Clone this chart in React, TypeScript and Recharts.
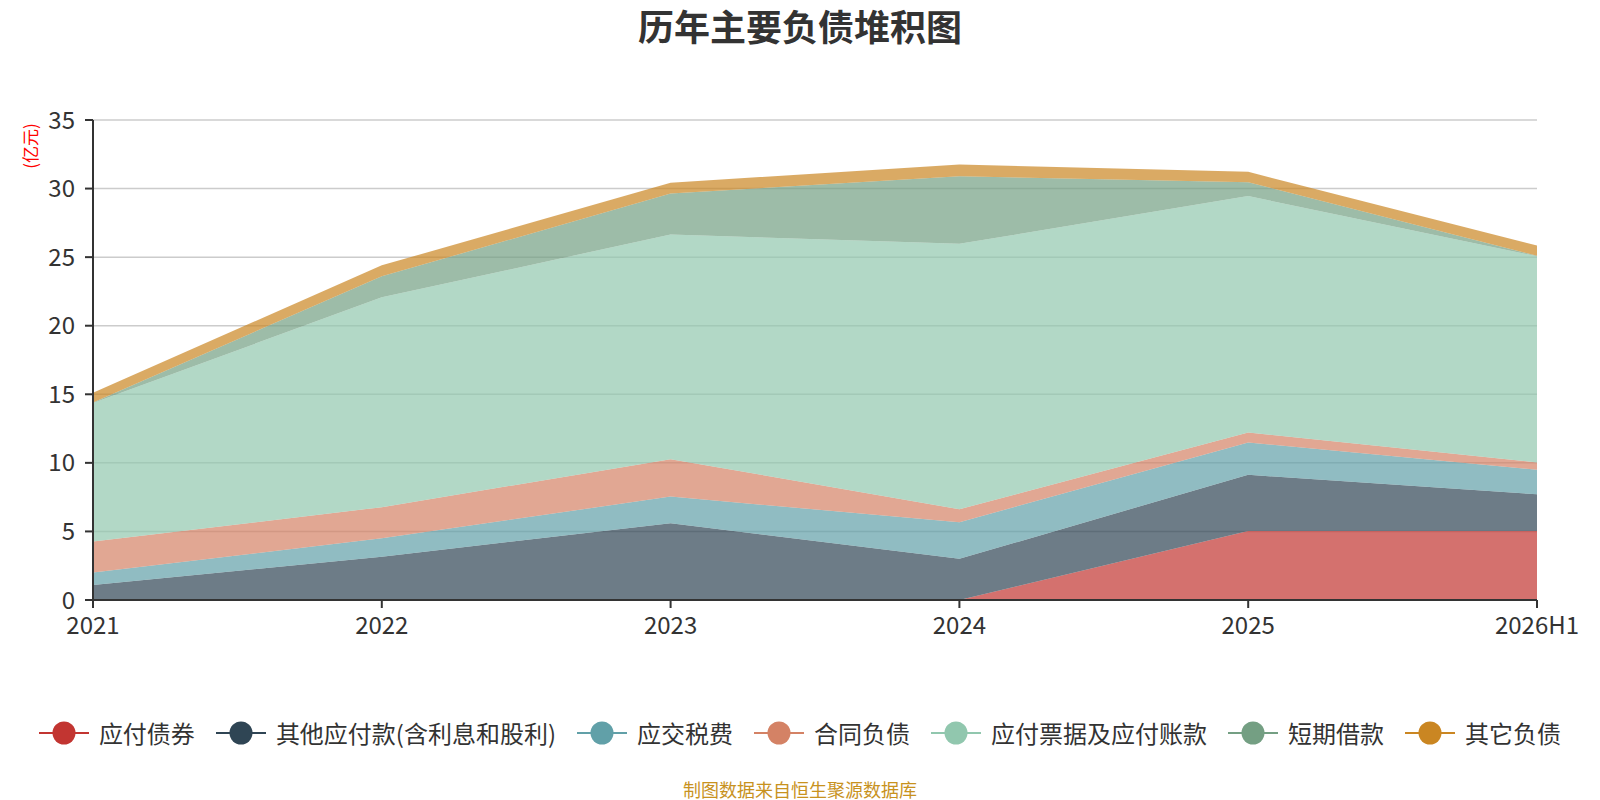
import { AreaChart, Area, XAxis, YAxis, CartesianGrid } from 'recharts';

const years = ['2021', '2022', '2023', '2024', '2025', '2026H1'];

// 单位：亿元
const bonds = [0, 0, 0, 0, 5.04, 5.04];
const otherPayables = [1.1, 3.16, 5.6, 3.0, 4.09, 2.67];
const taxes = [0.9, 1.34, 1.94, 2.67, 2.36, 1.78];
const contractLiab = [2.26, 2.27, 2.73, 0.95, 0.73, 0.54];
const notesPayable = [10.1, 15.3, 16.38, 19.35, 17.23, 15.04];
const shortLoans = [0.05, 1.53, 2.99, 4.93, 1.02, 0.03];
const otherLiab = [0.7, 0.8, 0.78, 0.86, 0.75, 0.75];

const yTicks = [0, 5, 10, 15, 20, 25, 30, 35];

const series = [
  { key: 'bonds', name: '应付债券', color: '#c23531', values: bonds },
  { key: 'otherPayables', name: '其他应付款(含利息和股利)', color: '#2f4554', values: otherPayables },
  { key: 'taxes', name: '应交税费', color: '#61a0a8', values: taxes },
  { key: 'contractLiab', name: '合同负债', color: '#d48265', values: contractLiab },
  { key: 'notesPayable', name: '应付票据及应付账款', color: '#91c7ae', values: notesPayable },
  { key: 'shortLoans', name: '短期借款', color: '#749f83', values: shortLoans },
  { key: 'otherLiab', name: '其它负债', color: '#ca8622', values: otherLiab },
];

const chartData = years.map((year, i) => {
  const row: Record<string, string | number> = { year };
  series.forEach(s => { row[s.key] = s.values[i]; });
  return row;
});

const FONT = '"Noto Sans CJK SC", "Noto Sans", sans-serif';

const ChartLegend = () => (
  <div style={{ position: 'absolute', left: 0, width: 1600, top: 717, height: 32, display: 'flex', justifyContent: 'center', alignItems: 'center' }}>
    {series.map((s, i) => (
      <div key={s.key} style={{ display: 'flex', alignItems: 'center', marginLeft: i === 0 ? 0 : 21 }}>
        <svg width={50} height={24} style={{ marginRight: 10 }}>
          <line x1={0} y1={12} x2={50} y2={12} stroke={s.color} strokeWidth={2} />
          <circle cx={25} cy={12} r={11.5} fill={s.color} />
        </svg>
        <span style={{ fontSize: 24, color: '#333', lineHeight: '32px' }}>{s.name}</span>
      </div>
    ))}
  </div>
);

export default function App() {
  return (
    <div style={{ position: 'absolute', left: 0, top: 0, width: 1600, height: 800, background: '#fff', fontFamily: FONT }}>
      <div style={{ position: 'absolute', left: 0, width: 1600, top: 0, lineHeight: '50px', textAlign: 'center', fontSize: 36, fontWeight: 'bold', color: '#333' }}>
        历年主要负债堆积图
      </div>
      <div style={{ position: 'absolute', left: 0, top: 134, width: 60, height: 24, transform: 'rotate(-90deg)', transformOrigin: 'center', fontSize: 17, color: '#ff0000', whiteSpace: 'nowrap', textAlign: 'center', lineHeight: '24px' }}>
        (亿元)
      </div>
      <AreaChart
        width={1600}
        height={800}
        data={chartData}
        margin={{ top: 120, right: 63, left: 33, bottom: 170 }}
      >
        <CartesianGrid vertical={false} stroke="#cccccc" strokeWidth={1.5} />
        <XAxis
          dataKey="year"
          height={30}
          stroke="#333"
          strokeWidth={2}
          tickSize={8}
          tickMargin={9}
          tick={{ fill: '#333', fontSize: 24 }}
          interval={0}
        />
        <YAxis
          width={60}
          domain={[0, 35]}
          ticks={yTicks}
          stroke="#333"
          strokeWidth={2}
          tickSize={8}
          tickMargin={10}
          tick={{ fill: '#333', fontSize: 24 }}
        />
        {series.map(s => (
          <Area
            key={s.key}
            type="linear"
            dataKey={s.key}
            name={s.name}
            stackId="1"
            stroke="none"
            fill={s.color}
            fillOpacity={0.7}
            isAnimationActive={false}
          />
        ))}
      </AreaChart>
      <ChartLegend />
      <div style={{ position: 'absolute', left: 0, width: 1600, top: 776, lineHeight: '26px', textAlign: 'center', fontSize: 18, color: '#c8921e' }}>
        制图数据来自恒生聚源数据库
      </div>
    </div>
  );
}
